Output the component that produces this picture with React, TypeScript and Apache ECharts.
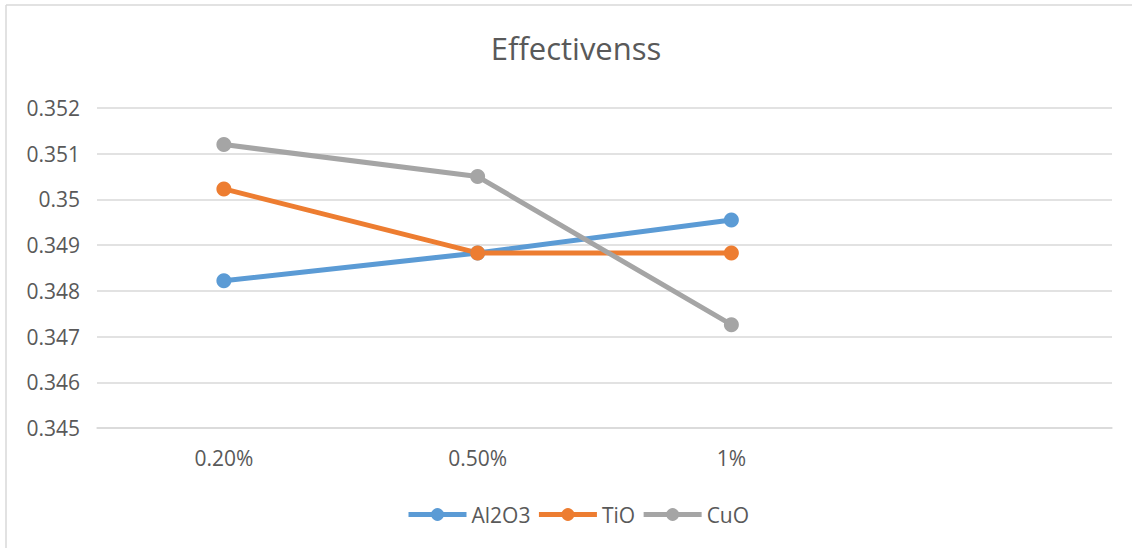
import React, { useEffect, useRef } from "react";
import * as echarts from "echarts";

const categories = ["0.20%", "0.50%", "1%", ""];
const al2o3 = [0.34822, 0.34883, 0.34955];
const tio = [0.35023, 0.34883, 0.34883];
const cuo = [0.3512, 0.3505, 0.34726];
const yTicks = { min: 0.345, max: 0.352, interval: 0.001 };

const FONT = "'Open Sans', 'Noto Sans', sans-serif";
const TXT = "#595959";

export default function App() {
  const ref = useRef<HTMLDivElement>(null);
  useEffect(() => {
    const chart = echarts.init(ref.current!, undefined, { renderer: "svg" });
    const mk = (name: string, data: number[], color: string) => ({
      name,
      type: "line",
      data,
      symbol: "circle",
      symbolSize: 15,
      color,
      lineStyle: { width: 5, color },
      itemStyle: { color },
    });
    chart.setOption({
      animation: false,
      backgroundColor: "#fff",
      textStyle: { fontFamily: FONT },
      title: {
        text: "Effectivenss",
        left: 571,
        textAlign: "center",
        top: 27,
        textStyle: { fontFamily: FONT, fontSize: 31, fontWeight: "normal", color: TXT },
      },
      grid: { left: 97, right: 20, top: 108, bottom: 120, containLabel: false },
      xAxis: {
        type: "category",
        data: categories,
        boundaryGap: true,
        axisLine: { show: true, lineStyle: { color: "#D9D9D9", width: 1.5 } },
        axisTick: { show: false },
        axisLabel: { color: TXT, fontSize: 21, fontFamily: FONT, margin: 19 },
      },
      yAxis: {
        type: "value",
        min: yTicks.min,
        max: yTicks.max,
        interval: yTicks.interval,
        axisLine: { show: false },
        axisTick: { show: false },
        splitLine: { lineStyle: { color: "#D9D9D9", width: 1.5 } },
        axisLabel: {
          color: TXT,
          fontSize: 21,
          fontFamily: FONT,
          margin: 17,
          formatter: (v: number) => String(Number(v.toFixed(3))),
        },
      },
      legend: {
        bottom: 18,
        left: 401,
        itemWidth: 58,
        itemHeight: 16,
        itemGap: 6,
        lineStyle: { width: 5 },
        textStyle: { color: TXT, fontSize: 21, fontFamily: FONT },
        data: ["Al2O3", "TiO", "CuO"],
      },
      graphic: [
        { type: "line", shape: { x1: 6, y1: 5, x2: 1132, y2: 5 }, style: { stroke: "#D9D9D9", lineWidth: 1.5 } },
        { type: "line", shape: { x1: 6, y1: 5, x2: 6, y2: 548 }, style: { stroke: "#D9D9D9", lineWidth: 1.5 } },
      ],
      series: [mk("Al2O3", al2o3, "#5B9BD5"), mk("TiO", tio, "#ED7D31"), mk("CuO", cuo, "#A5A5A5")],
    });
    return () => chart.dispose();
  }, []);
  return (
    <div
      ref={ref}
      style={{ position: "fixed", left: 0, top: 0, width: 1132, height: 548 }}
    />
  );
}
